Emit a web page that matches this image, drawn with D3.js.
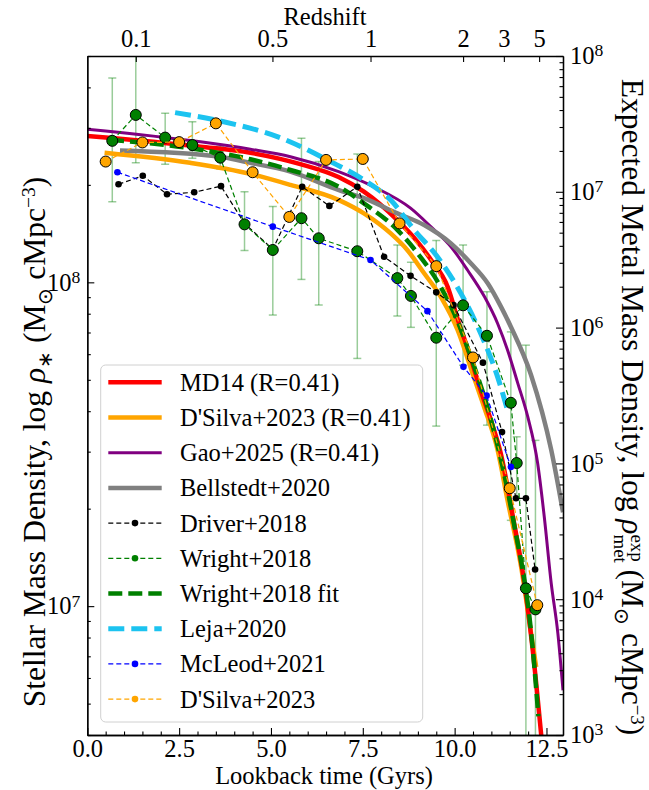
<!DOCTYPE html>
<html>
<head>
<meta charset="utf-8">
<script src="https://cdn.jsdelivr.net/npm/d3@7"></script>
<style>
  body { margin: 0; background: #fff; }
  svg { font-family: "Liberation Serif", "Times New Roman", serif; }
</style>
</head>
<body>
<svg width="649" height="790"></svg>
<script>
// ---- data (lookback time in Gyr, log10 of stellar mass density) ----
var md14T   = [0, 3.08, 4.44, 5.80, 6.84, 7.53, 8.44, 8.99, 9.36, 9.81, 10.1, 10.4, 10.7, 11.0, 11.26, 11.58, 11.9, 12.13, 12.35, 12.45];
var md14Log = [8.452, 8.419, 8.400, 8.365, 8.325, 8.280, 8.192, 8.125, 8.069, 7.986, 7.88, 7.78, 7.67, 7.57, 7.47, 7.28, 7.07, 6.86, 6.61, 6.49];

var dsilvaFitT   = [0.47, 2.80, 4.44, 5.53, 6.85, 7.53, 8.26, 8.71, 9.17, 9.62, 10.08, 10.52, 10.80, 11.17, 11.44, 11.81, 12.08, 12.22];
var dsilvaFitLog = [8.400, 8.369, 8.335, 8.301, 8.254, 8.213, 8.151, 8.100, 8.028, 7.956, 7.853, 7.708, 7.616, 7.482, 7.327, 7.121, 6.917, 6.812];

var gaoT   = [0, 3.08, 4.44, 5.53, 6.84, 7.80, 8.80, 9.35, 9.90, 10.35, 10.81, 11.17, 11.44, 11.72, 11.99, 12.26, 12.44, 12.63, 12.81, 12.95];
var gaoLog = [8.473, 8.434, 8.411, 8.388, 8.342, 8.295, 8.229, 8.172, 8.110, 8.038, 7.956, 7.873, 7.791, 7.688, 7.585, 7.441, 7.276, 7.070, 6.916, 6.74];

var bellT   = [0.89, 3.62, 4.26, 5.53, 6.85, 7.53, 8.44, 9.17, 9.90, 10.44, 10.90, 11.26, 11.53, 12.08, 12.63, 12.95];
var bellLog = [8.407, 8.388, 8.373, 8.342, 8.285, 8.260, 8.213, 8.177, 8.120, 8.059, 7.997, 7.925, 7.863, 7.714, 7.482, 7.29];

var wrightFitT   = [0.62, 2.80, 4.44, 5.53, 6.85, 7.53, 8.44, 8.99, 9.62, 10.08, 10.44, 10.99, 11.58, 12.13, 12.28];
var wrightFitLog = [8.440, 8.414, 8.380, 8.347, 8.295, 8.244, 8.162, 8.090, 7.986, 7.88, 7.77, 7.575, 7.276, 6.864, 6.66];

var lejaT   = [2.39, 3.71, 5.17, 6.62, 7.53, 8.26, 8.90, 9.53, 10.17, 10.71, 11.17, 11.44];
var lejaLog = [8.524, 8.496, 8.450, 8.373, 8.316, 8.254, 8.162, 8.079, 7.966, 7.842, 7.708, 7.605];

var driverT   = [0.85, 1.51, 2.17, 2.91, 3.64, 4.28, 5.05, 5.85, 6.59, 7.35, 8.08, 8.80, 9.50, 9.97, 10.77, 11.29, 11.67, 11.94, 12.19];
var driverLog = [8.303, 8.329, 8.272, 8.278, 8.297, 8.182, 8.102, 8.295, 8.236, 8.295, 8.079, 8.020, 7.969, 7.930, 7.752, 7.538, 7.333, 7.333, 7.113];

var wrightT   = [0.68, 1.32, 2.12, 2.86, 3.62, 4.28, 5.05, 5.83, 6.30, 7.35, 8.44, 8.81, 9.50, 10.23, 10.88, 11.53, 11.69, 11.94, 12.20];
var wrightLog = [8.437, 8.517, 8.447, 8.424, 8.385, 8.179, 8.100, 8.198, 8.136, 8.096, 8.013, 7.958, 7.829, 7.929, 7.835, 7.628, 7.442, 7.055, 6.990];
var wrightHi  = [8.631, 8.78, 8.522, 8.496, 8.42, 8.280, 8.234, 8.445, 8.373, 8.396, 8.115, 8.062, 8.129, 8.115, 7.971, 7.847, 7.523, 7.806, 7.512];
var wrightLo  = [8.249, 8.369, 8.365, 8.383, 8.35, 8.098, 7.899, 8.009, 7.930, 7.765, 7.896, 7.861, 7.556, 7.744, 7.559, 7.265, 7.327, 6.0, 6.0];

var mcleodT   = [0.82, 5.05, 7.71, 9.26, 10.24, 10.87, 11.53];
var mcleodLog = [8.340, 8.172, 8.069, 7.911, 7.739, 7.650, 7.430];

var dsilvaT   = [0.5, 1.5, 2.5, 3.5, 4.5, 5.5, 6.5, 7.5, 8.5, 9.5, 10.5, 11.5, 12.25];
var dsilvaLog = [8.373, 8.432, 8.433, 8.491, 8.340, 8.202, 8.378, 8.381, 8.182, 8.050, 7.768, 7.364, 7.003];

var xMajor = [0, 2.5, 5, 7.5, 10, 12.5];
var zLabels   = ["0.1", "0.5", "1", "2", "3", "5"];
var zLookback = [1.32, 5.04, 7.71, 10.23, 11.34, 12.30];
var yLeftMajor  = [1e7, 1e8];
var yRightMajor = [1e3, 1e4, 1e5, 1e6, 1e7, 1e8];

var legendNames = ["MD14 (R=0.41)", "D'Silva+2023 (R=0.41)", "Gao+2025 (R=0.41)", "Bellstedt+2020",
                   "Driver+2018", "Wright+2018", "Wright+2018 fit", "Leja+2020", "McLeod+2021", "D'Silva+2023"];

// ---- layout ----
var svg = d3.select("svg");
var plotL = 87.3, plotR = 563, plotT = 56, plotB = 735;
var x  = d3.scaleLinear().domain([0, 12.95]).range([plotL, plotR]);
var y  = d3.scaleLog().domain([4e6, 5e8]).range([plotB, plotT]);
var yR = d3.scaleLog().domain([1e3, 1e8]).range([plotB, plotT]);

svg.append("defs").append("clipPath").attr("id", "clip")
  .append("rect").attr("x", plotL).attr("y", plotT)
  .attr("width", plotR - plotL).attr("height", plotB - plotT);

var plot = svg.append("g").attr("clip-path", "url(#clip)");

var zip = function(t, v) { return t.map(function(d, i) { return [d, v[i]]; }); };
var smooth = d3.line().x(function(d) { return x(d[0]); }).y(function(d) { return y(Math.pow(10, d[1])); }).curve(d3.curveMonotoneX);
var straight = d3.line().x(function(d) { return x(d[0]); }).y(function(d) { return y(Math.pow(10, d[1])); });

// error bars for Wright+2018
var errG = plot.append("g").attr("stroke", "green").attr("stroke-opacity", 0.4).attr("stroke-width", 1.5);
wrightT.forEach(function(t, i) {
  var cx = x(t), y1 = y(Math.pow(10, wrightHi[i])), y2 = y(Math.pow(10, wrightLo[i]));
  errG.append("line").attr("x1", cx).attr("x2", cx).attr("y1", y1).attr("y2", y2);
  errG.append("line").attr("x1", cx - 4).attr("x2", cx + 4).attr("y1", y1).attr("y2", y1);
  errG.append("line").attr("x1", cx - 4).attr("x2", cx + 4).attr("y1", y2).attr("y2", y2);
});

// model curves
var curves = [
  {t: dsilvaFitT, v: dsilvaFitLog, c: "orange", w: 4.5},
  {t: md14T, v: md14Log, c: "red", w: 4.5},
  {t: gaoT, v: gaoLog, c: "purple", w: 3},
  {t: bellT, v: bellLog, c: "gray", w: 4.5},
  {t: wrightFitT, v: wrightFitLog, c: "green", w: 4.5, dash: "14,6"},
  {t: lejaT, v: lejaLog, c: "#1cc3f0", w: 5, dash: "16,7"}
];
curves.forEach(function(s) {
  plot.append("path").attr("d", smooth(zip(s.t, s.v)))
    .attr("fill", "none").attr("stroke", s.c).attr("stroke-width", s.w)
    .attr("stroke-dasharray", s.dash || null);
});

// observational series
var series = [
  {t: driverT, v: driverLog, c: "black", r: 3.3, edge: false},
  {t: wrightT, v: wrightLog, c: "green", r: 5.5, edge: true},
  {t: mcleodT, v: mcleodLog, c: "blue", r: 3.3, edge: false},
  {t: dsilvaT, v: dsilvaLog, c: "orange", r: 5.5, edge: true}
];
series.forEach(function(s) {
  var pts = zip(s.t, s.v);
  plot.append("path").attr("d", straight(pts))
    .attr("fill", "none").attr("stroke", s.c).attr("stroke-width", 1.2).attr("stroke-dasharray", "5,3");
  plot.selectAll(null).data(pts).enter().append("circle")
    .attr("cx", function(d) { return x(d[0]); })
    .attr("cy", function(d) { return y(Math.pow(10, d[1])); })
    .attr("r", s.r).attr("fill", s.c)
    .attr("stroke", s.edge ? "black" : "none").attr("stroke-width", 1);
});

// ---- axes ----
var fs = 24.5;
var styleAxis = function(g) {
  g.attr("font-family", null).attr("font-size", fs);
  g.select(".domain").attr("stroke-width", 1.3);
  g.selectAll(".tick line").attr("stroke-width", 1.1);
};
var supLabels = function(g) {
  g.selectAll(".tick text").each(function(d) {
    var t = d3.select(this);
    t.text(null);
    t.append("tspan").text("10");
    t.append("tspan").attr("dy", "-0.45em").attr("font-size", "0.72em").text(Math.round(Math.log10(d)));
  });
};

var minorX = d3.range(0.5, 12.95, 0.5).filter(function(d) { return Math.abs(d / 2.5 - Math.round(d / 2.5)) > 1e-6; });
svg.append("g").attr("transform", "translate(0," + plotB + ")")
  .call(d3.axisBottom(x).tickValues(minorX).tickFormat("").tickSizeInner(-3.5).tickSizeOuter(0)).call(styleAxis);
svg.append("g").attr("transform", "translate(0," + plotB + ")")
  .call(d3.axisBottom(x).tickValues(xMajor).tickFormat(d3.format(".1f")).tickSizeInner(-7).tickSizeOuter(0).tickPadding(5))
  .call(styleAxis);

svg.append("g").attr("transform", "translate(0," + plotT + ")")
  .call(d3.axisTop(x).tickValues(zLookback).tickFormat(function(d, i) { return zLabels[i]; }).tickSizeInner(-6).tickSizeOuter(0).tickPadding(9))
  .call(styleAxis);

var minorLeft = [];
[1e6, 1e7, 1e8].forEach(function(dec) {
  d3.range(2, 10).forEach(function(k) {
    var v = k * dec;
    if (v >= 4e6 && v <= 5e8) minorLeft.push(v);
  });
});
svg.append("g").attr("transform", "translate(" + plotL + ",0)")
  .call(d3.axisLeft(y).tickValues(minorLeft).tickFormat("").tickSizeInner(-3.5).tickSizeOuter(0)).call(styleAxis);
svg.append("g").attr("transform", "translate(" + plotL + ",0)")
  .call(d3.axisLeft(y).tickValues(yLeftMajor).tickSizeInner(-7).tickSizeOuter(0).tickPadding(7))
  .call(styleAxis).call(supLabels);

var minorRight = [];
[1e3, 1e4, 1e5, 1e6, 1e7].forEach(function(dec) {
  d3.range(2, 10).forEach(function(k) { minorRight.push(k * dec); });
});
svg.append("g").attr("transform", "translate(" + plotR + ",0)")
  .call(d3.axisRight(yR).tickValues(minorRight).tickFormat("").tickSizeInner(-3.5).tickSizeOuter(0)).call(styleAxis);
svg.append("g").attr("transform", "translate(" + plotR + ",0)")
  .call(d3.axisRight(yR).tickValues(yRightMajor).tickSizeInner(-7).tickSizeOuter(0).tickPadding(7))
  .call(styleAxis).call(supLabels);

// ---- axis titles ----
var rich = function(sel, parts, size) {
  var cur = 0;
  parts.forEach(function(p) {
    var ts = sel.append("tspan").text(p.t);
    var off = (p.off || 0) * size;
    if (off !== cur) ts.attr("dy", off - cur);
    cur = off;
    if (p.s) ts.attr("font-size", p.s * size);
    if (p.i) ts.attr("font-style", "italic");
    if (p.dx) ts.attr("dx", p.dx);
  });
};

svg.append("text").attr("x", 324).attr("y", 784).attr("text-anchor", "middle")
  .attr("font-size", fs).text("Lookback time (Gyrs)");
svg.append("text").attr("x", 325).attr("y", 25).attr("text-anchor", "middle")
  .attr("font-size", fs).text("Redshift");

var ySize = 31.5;
var leftTitle = svg.append("text").attr("transform", "translate(45,442) rotate(-90)")
  .attr("text-anchor", "middle").attr("font-size", ySize);
rich(leftTitle, [
  {t: "Stellar Mass Density, log "},
  {t: "ρ", i: 1},
  {t: "∗", off: 0.22, s: 0.65},
  {t: " (M", off: 0},
  {t: "⊙", off: 0.22, s: 0.65},
  {t: " cMpc", off: 0},
  {t: "−3", off: -0.32, s: 0.62},
  {t: ")", off: 0}
], ySize);

var rightTitle = svg.append("text").attr("transform", "translate(622,407) rotate(90)")
  .attr("text-anchor", "middle").attr("font-size", ySize);
rich(rightTitle, [
  {t: "Expected Metal Mass Density, log "},
  {t: "ρ", i: 1},
  {t: "met", off: 0.25, s: 0.6},
  {t: "exp", off: -0.3, s: 0.6, dx: -0.6 * ySize * 1.5},
  {t: " (M", off: 0},
  {t: "⊙", off: 0.22, s: 0.65},
  {t: " cMpc", off: 0},
  {t: "−3", off: -0.3, s: 0.6},
  {t: ")", off: 0}
], ySize);

// ---- legend ----
var legendStyles = [
  {c: "red", w: 4.5}, {c: "orange", w: 4.5}, {c: "purple", w: 3}, {c: "gray", w: 4.5},
  {c: "black", w: 1.2, dash: "5,3", dot: true}, {c: "green", w: 1.2, dash: "5,3", dot: true},
  {c: "green", w: 4.5, dash: "14,6"}, {c: "#1cc3f0", w: 5, dash: "16,7"},
  {c: "blue", w: 1.2, dash: "5,3", dot: true}, {c: "orange", w: 1.2, dash: "5,3", dot: true}
];
var legend = svg.append("g");
legend.append("rect").attr("x", 100.7).attr("y", 365).attr("width", 322).attr("height", 357)
  .attr("rx", 5).attr("fill", "white").attr("fill-opacity", 0.8)
  .attr("stroke", "#d0d0d0").attr("stroke-width", 1);
legendNames.forEach(function(name, i) {
  var ly = 382.3 + i * 35.2, st = legendStyles[i];
  legend.append("line").attr("x1", 108.3).attr("x2", 161.7).attr("y1", ly).attr("y2", ly)
    .attr("stroke", st.c).attr("stroke-width", st.w).attr("stroke-dasharray", st.dash || null);
  if (st.dot) legend.append("circle").attr("cx", 135).attr("cy", ly).attr("r", 3.3).attr("fill", st.c);
  legend.append("text").attr("x", 180).attr("y", ly).attr("dy", "0.35em")
    .attr("font-size", fs).text(name);
});
</script>
</body>
</html>
